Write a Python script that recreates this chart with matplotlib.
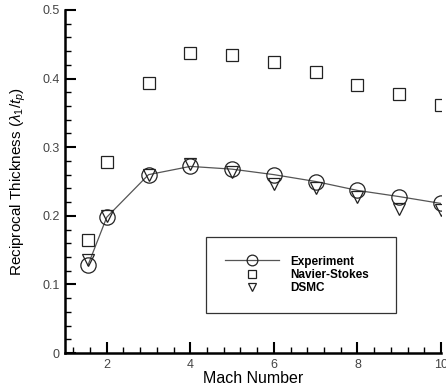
import matplotlib
matplotlib.use("Agg")
from matplotlib import pyplot as plt
from matplotlib.ticker import MultipleLocator

plt.rcParams['font.family'] = ['Liberation Sans', 'DejaVu Sans']
plt.rcParams['mathtext.fontset'] = 'custom'
plt.rcParams['mathtext.rm'] = 'Liberation Sans'
plt.rcParams['mathtext.it'] = 'Liberation Sans:italic'

# values
mach = [1.55, 2, 3, 4, 5, 6, 7, 8, 9, 10]
experiment = [0.128, 0.198, 0.260, 0.272, 0.268, 0.260, 0.250, 0.237, 0.228, 0.218]
navier_stokes = [0.165, 0.278, 0.393, 0.438, 0.435, 0.424, 0.410, 0.390, 0.378, 0.362]
dsmc = [0.135, 0.200, 0.260, 0.275, 0.264, 0.246, 0.240, 0.227, 0.210, 0.208]

x_ticks = [2, 4, 6, 8, 10]
y_ticks = [0, 0.1, 0.2, 0.3, 0.4, 0.5]
y_tick_labels = ["0", "0.1", "0.2", "0.3", "0.4", "0.5"]

fig = plt.figure(figsize=(4.46, 3.91), dpi=100)
ax = fig.add_axes([65 / 446, 38 / 391, 376 / 446, 343 / 391])

ax.plot(mach, experiment, color="#555555", linewidth=0.9, marker="o", markersize=11,
        markerfacecolor="none", markeredgecolor="#222222", markeredgewidth=0.9,
        label="Experiment", zorder=3)
ax.plot(mach, navier_stokes, linestyle="none", marker="s", markersize=8,
        markerfacecolor="none", markeredgecolor="#222222", markeredgewidth=0.9,
        label="Navier-Stokes", zorder=3)
ax.plot(mach, dsmc, linestyle="none", marker="v", markersize=9,
        markerfacecolor="none", markeredgecolor="#222222", markeredgewidth=0.9,
        label="DSMC", zorder=3)

ax.set_xlim(1, 10)
ax.set_ylim(0, 0.5)
ax.set_xticks(x_ticks)
ax.set_yticks(y_ticks)
ax.set_yticklabels(y_tick_labels)
ax.xaxis.set_minor_locator(MultipleLocator(0.4))
ax.yaxis.set_minor_locator(MultipleLocator(0.02))

for side in ["top", "right"]:
    ax.spines[side].set_visible(False)
for side in ["left", "bottom"]:
    ax.spines[side].set_linewidth(1.8)

ax.tick_params(which="major", direction="in", length=8, width=1.5,
               labelsize=9, labelcolor="#444444", pad=4)
ax.tick_params(which="minor", direction="in", length=4, width=1.0)

ax.set_xlabel("Mach Number", fontsize=11.5, labelpad=0)
ax.set_ylabel(r"Reciprocal Thickness ($\lambda_1/t_p$)", fontsize=11, labelpad=10)

leg = ax.legend(loc="center", bbox_to_anchor=(141 / 376, 38 / 343, 190 / 376, 80 / 343),
                mode="expand", frameon=True, fancybox=False, borderpad=1.6,
                borderaxespad=0, markerscale=0.7,
                handlelength=4.6, handletextpad=0.9, labelspacing=0.12,
                prop={"size": 8.5, "weight": "bold"})
leg.get_frame().set_edgecolor("black")
leg.get_frame().set_linewidth(0.9)

fig.savefig("out.png", dpi=100)
